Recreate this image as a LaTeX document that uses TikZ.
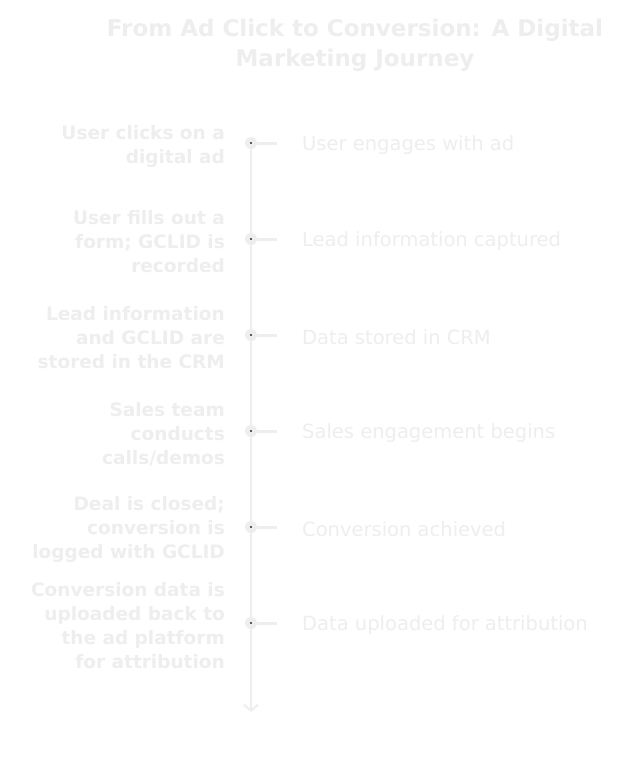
\documentclass[tikz,border=0pt]{standalone}
\usepackage{fontspec}
\setmainfont{DejaVu Sans}
\usetikzlibrary{arrows.meta}

\definecolor{inkgray}{HTML}{EEEEEE}
\definecolor{dotgray}{HTML}{5A5A5A}

\tikzset{
	steplabel/.style = {anchor = east, align = right, inner sep = 0pt, inkgray, font = \bfseries\fontsize{18.5}{24}\selectfont},
	notelabel/.style = {anchor = west, inner sep = 0pt, inkgray, font = \fontsize{19.5}{24}\selectfont},
	eventdot/.style = {circle, fill = inkgray, minimum size = 12pt, inner sep = 0pt}
}

\begin{document}
\begin{tikzpicture}[x = 1pt, y = -1pt, > = {Straight Barb[length = 6pt, width = 14pt]}]

	\useasboundingbox [fill = white] (0, 0) rectangle (642, 761);

	% Title

	\node (title) [align = center, inner sep = 0pt, inkgray, font = \bfseries\fontsize{23}{30}\selectfont] at (355, 45)
		{From Ad Click to Conversion: A Digital\\Marketing Journey};

	% Timeline axis

	\coordinate (tend) at (251, 712);
	\foreach \i in {1, ..., 6}
		\coordinate (t\i) at (251, 47 + 96 * \i);

	\draw [inkgray, line width = 2pt, ->] (t1) -- (tend);

	% Ticks + dots

	\foreach \i in {1, ..., 6} {
		\coordinate (k\i) at (277, 47 + 96 * \i);
		\draw [inkgray, line width = 3pt] (t\i) -- (k\i);
		\node (d\i) [eventdot] at (t\i) {};
		\fill [dotgray] ([shift = {(-1.2, -1.2)}] d\i.center) rectangle ([shift = {(1.2, 1.2)}] d\i.center);
	}

	% Left labels

	\node (s1) [steplabel] at (225, 146) {User clicks on a\\digital ad};
	\node (s2) [steplabel] at (225, 242) {User fills out a\\form; GCLID is\\recorded};
	\node (s3) [steplabel] at (225, 338) {Lead information\\and GCLID are\\stored in the CRM};
	\node (s4) [steplabel] at (225, 434) {Sales team\\conducts\\calls/demos};
	\node (s5) [steplabel] at (225, 529) {Deal is closed;\\conversion is\\logged with GCLID};
	\node (s6) [steplabel] at (225, 626) {Conversion data is\\uploaded back to\\the ad platform\\for attribution};

	% Right labels

	\node (n1) [notelabel] at (302, 145) {User engages with ad};
	\node (n2) [notelabel] at (302, 241) {Lead information captured};
	\node (n3) [notelabel] at (302, 337) {Data stored in CRM};
	\node (n4) [notelabel] at (302, 433) {Sales engagement begins};
	\node (n5) [notelabel] at (302, 529) {Conversion achieved};
	\node (n6) [notelabel] at (302, 625) {Data uploaded for attribution};

\end{tikzpicture}
\end{document}
